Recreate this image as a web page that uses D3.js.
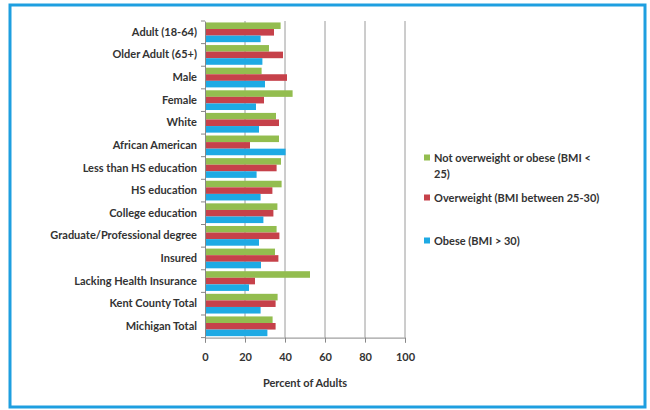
<!DOCTYPE html>
<html><head><meta charset="utf-8">
<script src="https://cdn.jsdelivr.net/npm/d3@7"></script>
<style>body{margin:0;background:#fff}svg{display:block}</style>
</head><body>
<svg id="c" width="650" height="410"></svg>
<script>
const categories = ["Adult (18-64)","Older Adult (65+)","Male","Female","White","African American","Less than HS education","HS education","College education","Graduate/Professional degree","Insured","Lacking Health Insurance","Kent County Total","Michigan Total"];
const notOverweight = [37.8,32,28.3,43.8,35.5,37,38,38.3,36.2,35.8,35,52.5,36.3,33.8];
const overweight = [34.5,39,41,29.5,37,22.5,35.8,33.7,34.2,37.2,36.7,25,35.3,35.3];
const obese = [27.8,28.7,30,25.5,27,40.3,25.8,27.8,29.2,27,28,22,27.8,31.2];
const seriesNames = ["Not overweight or obese (BMI <\n25)","Overweight (BMI between 25-30)","Obese (BMI > 30)"];
const xTicks = [0,20,40,60,80,100];
const xTitle = "Percent of Adults";

const colors = ["#93BD4F","#C6414A","#1EAAE4"];
const series = [notOverweight, overweight, obese];
const svg = d3.select("#c");
const font = "Lato, 'Open Sans', sans-serif";

// frame
svg.append("rect").attr("x",10).attr("y",5).attr("width",635).attr("height",402)
  .attr("fill","#fff").attr("stroke","#1E9FE0").attr("stroke-width",3);

const L=205, R=405, T=21, B=337.6;
const x = d3.scaleLinear().domain([0,100]).range([L,R]);
const y = d3.scaleBand().domain(categories).range([T,B]).paddingInner(0).paddingOuter(0);
const inner = d3.scaleBand().domain([0,1,2]).range([0, y.bandwidth()]).paddingOuter(0.22).paddingInner(0);

// gridlines
svg.append("g").selectAll("line").data(xTicks.slice(1)).join("line")
  .attr("x1",d=>x(d)).attr("x2",d=>x(d)).attr("y1",T).attr("y2",B)
  .attr("stroke","#9a9a9a").attr("stroke-width",1);

// bars
series.forEach((s,i)=>{
  svg.append("g").selectAll("rect").data(s).join("rect")
    .attr("x",x(0)).attr("y",(d,j)=>y(categories[j])+inner(i))
    .attr("width",d=>x(d)-x(0)).attr("height",inner.bandwidth())
    .attr("fill",colors[i]);
});

// x axis
const xa = svg.append("g").attr("transform",`translate(0,${B})`)
  .call(d3.axisBottom(x).tickValues(xTicks).tickSize(5).tickPadding(11));
xa.select(".domain").attr("stroke","#888");
xa.selectAll(".tick line").attr("stroke","#888");
xa.selectAll("text").attr("font-family",font).attr("font-size",11).attr("font-weight",700).attr("fill","#333");

// y axis
const ya = svg.append("g").attr("transform",`translate(${L},0)`)
  .call(d3.axisLeft(y).tickSize(0).tickPadding(8));
ya.select(".domain").attr("stroke","#888");
ya.selectAll("text").attr("font-family",font).attr("font-size",11).attr("font-weight",700).attr("fill","#333");
// category boundary ticks
svg.append("g").selectAll("line").data(d3.range(categories.length+1)).join("line")
  .attr("x1",L-4).attr("x2",L).attr("y1",d=>T+d*y.step()).attr("y2",d=>T+d*y.step())
  .attr("stroke","#888");

// axis title
svg.append("text").attr("x",(L+R)/2).attr("y",387).attr("text-anchor","middle")
  .attr("font-family",font).attr("font-size",11).attr("font-weight",700).attr("fill","#333").text(xTitle);

// legend
const legY = [158, 198, 241];
seriesNames.forEach((n,i)=>{
  const g = svg.append("g");
  g.append("rect").attr("x",424).attr("y",legY[i]-3.5).attr("width",6).attr("height",6).attr("fill",colors[i]);
  const lines = n.split("\n");
  lines.forEach((ln,k)=>{
    g.append("text").attr("x",434).attr("y",legY[i]+4+k*16)
      .attr("font-family",font).attr("font-size",11).attr("font-weight",700).attr("fill","#333").text(ln);
  });
});
</script>
</body></html>
